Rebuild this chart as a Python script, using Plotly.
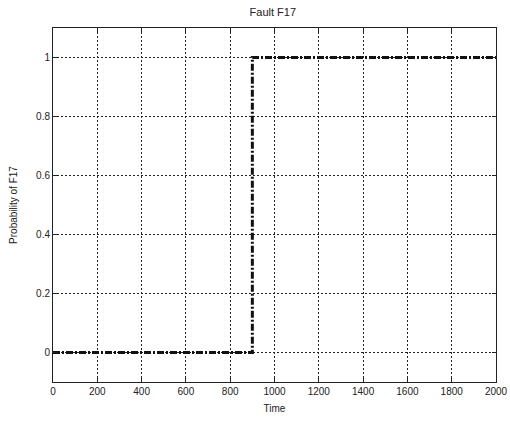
import plotly.graph_objects as go

# Fault probability over time (step change when F17 is detected)
time = [0, 900, 2000]
prob_f17 = [0, 1, 1]

x_ticks = [0, 200, 400, 600, 800, 1000, 1200, 1400, 1600, 1800, 2000]
y_ticks = [0, 0.2, 0.4, 0.6, 0.8, 1]
y_tick_labels = ["0", "0.2", "0.4", "0.6", "0.8", "1"]

fig = go.Figure()
fig.add_trace(go.Scatter(
    x=time, y=prob_f17, mode="lines", line_shape="hv",
    line=dict(color="#111111", width=3, dash="7px,2px,2px,2px"),
    showlegend=False,
))

axis_common = dict(
    showline=True, linecolor="#222222", linewidth=1, mirror="ticks",
    ticks="inside", ticklen=4, tickcolor="#222222",
    showgrid=True, gridcolor="#222222", griddash="2px,2px", gridwidth=1,
    zeroline=False, automargin=False,
    tickfont=dict(size=10, color="#222222"),
)

fig.update_layout(
    width=510, height=421,
    margin=dict(l=53, r=14, t=28, b=39),
    paper_bgcolor="white", plot_bgcolor="white",
    font=dict(family="Liberation Sans, Arial, sans-serif", size=10, color="#222222"),
    title=dict(text="Fault F17", x=0.535, xanchor="center", y=0.97, yanchor="middle",
               font=dict(size=11)),
    xaxis=dict(range=[0, 2000], tickvals=x_ticks,
               title=dict(text="Time", standoff=8, font=dict(size=10)), **axis_common),
    yaxis=dict(range=[-0.1, 1.1], tickvals=y_ticks, ticktext=y_tick_labels,
               title=dict(text="Probability of F17", standoff=16, font=dict(size=10)),
               **axis_common),
)

fig.write_html("out.html")
